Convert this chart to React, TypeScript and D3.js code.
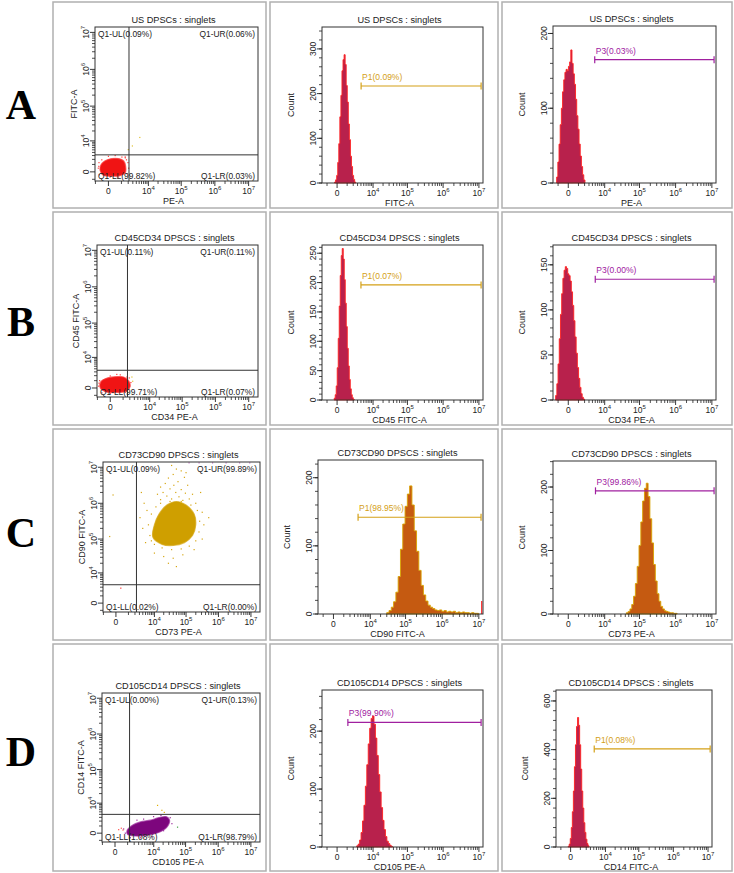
import React from "react";
import * as d3 from "d3";

const FONT = "'Liberation Sans', Arial, Helvetica, sans-serif";
const INK = "#222";

// panel grid
const rowLetters = ["A", "B", "C", "D"];
const letterMidY = [105, 322, 533, 752];
const colEdges = [[53, 266], [270, 498], [502, 732]];
const rowEdges = [[2, 208], [212, 425], [429, 640], [644, 871]];

// shared decade axis
const decades = [0, 1e4, 1e5, 1e6, 1e7];
const minorDecades = [
  -1000,
  ...d3.range(1000, 10000, 1000),
  ...[1e4, 1e5, 1e6].flatMap((p) => d3.range(2, 10).map((k) => k * p)),
];

// ---- dot plots: [PE, FITC] intensities ----
const usCore = [[-545, 200], [-460, 990], [-180, 1690], [180, 2190], [700, 2190], [1270, 1690], [1570, 700], [1510, -100], [860, -450], [180, -520], [-290, -400]];
const usEvents = [[-697, 440], [-633, 1323], [0, 2771], [410, 2982], [1058, 2570], [1960, 1323], [2087, 440], [1790, -207], [-605, -343], [85, -640], [697, -640], [1514, 2378], [-400, 1900], [1500, 2600], [1700, 1900], [-650, 700]];
const usStray = [[2890, 6820], [5260, 12770], [2020, 5070]];

const cd45Core = [[-700, 0], [-630, 870], [-180, 1470], [290, 1770], [1060, 1690], [1790, 990], [2090, 210], [1510, -350], [410, -560], [-290, -450]];
const cd45Events = [[-860, 207], [-762, 994], [0, 1935], [697, 2193], [1514, 1692], [2219, 701], [1272, -540], [0, -700], [-545, -600], [-820, 600], [1900, 1500], [400, 2300]];
const cd45Stray = [[2427, 1692], [2600, 900]];

// CD73/CD90 events in log10 units
const cd73CoreLog = [[3.95, 5.05], [4.0, 5.4], [4.15, 5.7], [4.4, 5.95], [4.7, 6.05], [5.0, 5.95], [5.25, 5.7], [5.3, 5.4], [5.2, 5.1], [4.95, 4.9], [4.6, 4.82], [4.25, 4.85]];
const cd73EventsLog = [
  [4.55, 7.05], [4.7, 6.95], [4.85, 6.9], [4.6, 6.8], [4.45, 6.7], [4.95, 6.72], [4.75, 6.6], [4.35, 6.55],
  [4.62, 6.5], [5.05, 6.5], [4.5, 6.4], [4.85, 6.38], [4.28, 6.3], [4.68, 6.3], [4.98, 6.28], [5.2, 6.25],
  [4.4, 6.2], [4.78, 6.18], [4.55, 6.12], [5.1, 6.12], [4.2, 6.1], [4.9, 6.08],
  [3.85, 5.1], [3.8, 5.4], [3.9, 5.7], [4.05, 5.9], [4.2, 6.0], [4.5, 6.05], [4.85, 6.05], [5.15, 5.95],
  [5.35, 5.8], [5.42, 5.5], [5.4, 5.2], [5.3, 4.95], [5.1, 4.8], [4.85, 4.72], [4.55, 4.7], [4.25, 4.75],
  [4.0, 4.85], [3.9, 4.95], [3.6, 5.3], [3.7, 4.9], [3.75, 5.8], [4.0, 4.6], [4.3, 4.5], [4.6, 4.45],
  [4.9, 4.55], [5.25, 4.7], [5.5, 5.0], [5.55, 5.4], [5.5, 5.75], [5.3, 6.0], [3.65, 6.0], [4.1, 6.25],
  [5.45, 6.3], [4.45, 4.3], [4.7, 4.2], [3.5, 5.6], [3.55, 6.3], [5.7, 5.6], [4.2, 6.45], [5.0, 6.85],
];
const cd73Outliers = [[-158, 1.7e6], [-389, 1.18e5]];
const cd73Top = [[124000, 1.32e7], [253000, 1.32e7], [660000, 1.32e7], [1.72e6, 1.32e7], [4.48e6, 1.32e7], [9.2e6, 1.32e7]];
const cd73Red = [[289, 2720]];

const cd105Core = [[926, 290], [1610, 1095], [3450, 1800], [7680, 2220], [14350, 2900], [25100, 3220], [31900, 2220], [26300, 800], [14350, 78], [5940, -248], [2220, -340], [1010, -160]];
const cd105Events = [[586, 530], [746, 0], [1260, 634], [2580, 2220], [4550, 2500], [9870, 3220], [17100, 3570], [33500, 2900], [37800, 1430], [20700, 290], [8720, -430], [3450, -580], [1360, -580]];
const cd105Red = [[206, 430], [392, 634], [528, 380]];
const cd105Stray = [[13300, 8450], [21800, 4760], [18300, 5700]];
const cd105Green = [[56500, 800]];

const fromLog = (pts: number[][]) => pts.map(([a, b]) => [10 ** a, 10 ** b]);

// ---- histograms: counts per channel between lo and hi ----
const usFitcCounts = [2, 7, 17, 46, 88, 148, 196, 251, 276, 287, 265, 218, 181, 132, 97, 60, 37, 17, 8, 2];
const usPeCounts = [8, 28, 52, 78, 100, 122, 138, 148, 152, 150, 156, 162, 178, 160, 146, 132, 112, 90, 72, 52, 36, 22, 11, 4];
const cd45Counts = [3, 9, 24, 55, 105, 160, 212, 246, 258, 240, 205, 165, 125, 88, 58, 35, 19, 9, 4, 1];
const cd34Counts = [5, 18, 40, 68, 95, 118, 135, 144, 148, 146, 140, 138, 132, 120, 105, 88, 70, 52, 36, 24, 14, 7, 3, 1];
const cd90Counts = [2, 5, 10, 18, 32, 55, 95, 132, 158, 176, 188, 160, 122, 92, 64, 42, 28, 19, 13, 10, 8, 6, 5, 6, 4, 5, 3, 4, 3, 4, 2, 3, 2, 3, 2, 2, 1, 2, 1, 1];
const cd73Counts = [2, 4, 8, 15, 28, 48, 75, 108, 145, 178, 198, 206, 185, 150, 112, 78, 52, 32, 20, 12, 8, 5, 4, 3, 2, 2, 1, 1];
const cd105Counts = [2, 5, 12, 25, 45, 72, 105, 142, 178, 205, 222, 226, 212, 188, 158, 125, 95, 68, 46, 30, 18, 10, 6, 3, 1];
const cd14Counts = [3, 12, 35, 80, 145, 230, 330, 420, 495, 532, 500, 420, 320, 230, 160, 100, 60, 32, 14, 5];

const RED = { fill: "#b8214c", stroke: "#ff2020" };
const ORANGE = { fill: "#c55a11", stroke: "#d9a300" };
const GOLD = "#d4a017";
const PURPLE = "#a0209f";

const scatterPanels = [
  {
    plot: [95, 258, 27, 181], title: "US DPSCs : singlets", xLabel: "PE-A", yLabel: "FITC-A",
    quad: ["Q1-UL(0.09%)", "Q1-UR(0.06%)", "Q1-LL(99.82%)", "Q1-LR(0.03%)"], gate: [2150, 3200],
    core: usCore, coreColor: "#f01414",
    groups: [{ pts: usEvents, color: "#ff4040" }, { pts: usStray, color: "#e0c030" }],
  },
  {
    plot: [97, 258, 245, 397], title: "CD45CD34 DPSCS : singlets", xLabel: "CD34 PE-A", yLabel: "CD45 FITC-A",
    quad: ["Q1-UL(0.11%)", "Q1-UR(0.11%)", "Q1-LL(99.71%)", "Q1-LR(0.07%)"], gate: [1600, 3500],
    core: cd45Core, coreColor: "#f01414",
    groups: [{ pts: cd45Events, color: "#ff4040" }, { pts: cd45Stray, color: "#e0c030" }],
  },
  {
    plot: [103, 260, 462, 612], title: "CD73CD90 DPSCS : singlets", xLabel: "CD73 PE-A", yLabel: "CD90 FITC-A",
    quad: ["Q1-UL(0.09%)", "Q1-UR(99.89%)", "Q1-LL(0.02%)", "Q1-LR(0.00%)"], gate: [2300, 3800],
    core: fromLog(cd73CoreLog), coreColor: "#cf9f00",
    groups: [
      { pts: fromLog(cd73EventsLog), color: "#d6a612" },
      { pts: cd73Outliers, color: "#d6a612" },
      { pts: cd73Top, color: "#c070c8" },
      { pts: cd73Red, color: "#ff3030" },
    ],
  },
  {
    plot: [102, 260, 693, 842], title: "CD105CD14 DPSCS : singlets", xLabel: "CD105 PE-A", yLabel: "CD14 FITC-A",
    quad: ["Q1-UL(0.00%)", "Q1-UR(0.13%)", "Q1-LL(1.08%)", "Q1-LR(98.79%)"], gate: [1250, 4000],
    core: cd105Core, coreColor: "#7d067d",
    groups: [{ pts: cd105Events, color: "#9b2b9b" }, { pts: cd105Red, color: "#ff5050" }, { pts: cd105Stray, color: "#e0b000" }, { pts: cd105Green, color: "#40a040" }],
  },
];

const histPanels = [
  { plot: [322, 483, 27, 183], title: "US DPSCs : singlets", xLabel: "FITC-A", counts: usFitcCounts, lo: -193, hi: 2542, yMax: 349, yTicks: [0, 100, 200, 300], yMinor: 20, colors: RED, gate: { label: "P1(0.09%)", lo: 4050, count: 217, color: GOLD } },
  { plot: [553, 716, 26, 183], title: "US DPSCs : singlets", xLabel: "PE-A", counts: usPeCounts, lo: -1198, hi: 2072, yMax: 210, yTicks: [0, 100, 200], yMinor: 20, colors: RED, gate: { label: "P3(0.03%)", lo: 4800, count: 165, color: PURPLE } },
  { plot: [322, 483, 245, 400], title: "CD45CD34 DPSCS : singlets", xLabel: "CD45 FITC-A", counts: cd45Counts, lo: -222, hi: 2222, yMax: 264, yTicks: [0, 50, 100, 150, 200, 250], yMinor: 10, colors: RED, gate: { label: "P1(0.07%)", lo: 4000, count: 196, color: GOLD } },
  { plot: [553, 716, 245, 400], title: "CD45CD34 DPSCS : singlets", xLabel: "CD34 PE-A", counts: cd34Counts, lo: -1350, hi: 2000, yMax: 172, yTicks: [0, 50, 100, 150], yMinor: 10, colors: RED, gate: { label: "P3(0.00%)", lo: 5000, count: 134, color: PURPLE } },
  { plot: [318, 483, 460, 614], title: "CD73CD90 DPSCS : singlets", xLabel: "CD90 FITC-A", counts: cd90Counts, lo: 29900, hi: 9.8e6, yMax: 226, yTicks: [0, 100, 200], yMinor: 20, colors: ORANGE, gate: { label: "P1(98.95%)", lo: 4050, count: 142, color: GOLD }, overflow: { value: 1.2e7, count: 19 } },
  { plot: [553, 716, 461, 614], title: "CD73CD90 DPSCS : singlets", xLabel: "CD73 PE-A", counts: cd73Counts, lo: 42700, hi: 1.1e6, yMax: 241, yTicks: [0, 100, 200], yMinor: 20, colors: ORANGE, gate: { label: "P3(99.86%)", lo: 5090, count: 194, color: PURPLE } },
  { plot: [322, 483, 690, 847], title: "CD105CD14 DPSCS : singlets", xLabel: "CD105 PE-A", counts: cd105Counts, lo: 2800, hi: 37900, yMax: 271, yTicks: [0, 100, 200], yMinor: 20, colors: RED, gate: { label: "P3(99.90%)", lo: 1100, count: 215, color: PURPLE } },
  { plot: [556, 712, 690, 847], title: "CD105CD14 DPSCS : singlets", xLabel: "CD14 FITC-A", counts: cd14Counts, lo: -193, hi: 2627, yMax: 645, yTicks: [0, 200, 400, 600], yMinor: 40, colors: RED, gate: { label: "P1(0.08%)", lo: 4165, count: 403, color: GOLD } },
];

const GATE_END = 1.15e7;

function DecadeText({ v }: { v: number }) {
  if (v === 0) return <>0</>;
  return (
    <>
      10<tspan dy={-4} fontSize={6}>{Math.round(Math.log10(v))}</tspan>
    </>
  );
}

function DecadeXAxis({ x, b }: any) {
  return (
    <g>
      {minorDecades.map((v) => (
        <line key={"m" + v} x1={x(v)} x2={x(v)} y1={b} y2={b + 3} stroke={INK} strokeWidth={0.8} />
      ))}
      {decades.map((v) => (
        <g key={v}>
          <line x1={x(v)} x2={x(v)} y1={b} y2={b + 5} stroke={INK} strokeWidth={0.9} />
          <text x={x(v)} y={b + 13} textAnchor="middle" fontSize={8.5}>
            <DecadeText v={v} />
          </text>
        </g>
      ))}
    </g>
  );
}

function DecadeYAxis({ y, l }: any) {
  return (
    <g>
      {minorDecades.map((v) => (
        <line key={"m" + v} x1={l - 3} x2={l} y1={y(v)} y2={y(v)} stroke={INK} strokeWidth={0.8} />
      ))}
      {decades.map((v) => (
        <g key={v}>
          <line x1={l - 5} x2={l} y1={y(v)} y2={y(v)} stroke={INK} strokeWidth={0.9} />
          <text transform={`translate(${l - 6},${y(v)}) rotate(-90)`} textAnchor="middle" fontSize={8.5}>
            <DecadeText v={v} />
          </text>
        </g>
      ))}
    </g>
  );
}

function Frame({ l, r, t, b, title, xLabel, yLabel, yLabelOffset }: any) {
  const cx = (l + r) / 2 - 3;
  return (
    <g>
      <rect x={l} y={t} width={r - l} height={b - t} fill="none" stroke="#333" strokeWidth={1} />
      <text x={cx} y={t - 4} textAnchor="middle" fontSize={9.2}>{title}</text>
      <text x={cx} y={b + 23} textAnchor="middle" fontSize={9}>{xLabel}</text>
      <text transform={`translate(${l - yLabelOffset},${(t + b) / 2}) rotate(-90)`} textAnchor="middle" fontSize={9}>
        {yLabel}
      </text>
    </g>
  );
}

function ScatterPanel({ p, id }: any) {
  const [l, r, t, b] = p.plot;
  const x = d3.scaleSymlog().constant(700).domain([-1050, 1.9e7]).range([l, r]);
  const y = d3.scaleSymlog().constant(1700).domain([-1300, 1.4e7]).range([b, t]);
  const blob = d3
    .line<number[]>()
    .x((d) => x(d[0]))
    .y((d) => y(d[1]))
    .curve(d3.curveCatmullRomClosed.alpha(0.5));
  const gx = x(p.gate[0]);
  const gy = y(p.gate[1]);
  return (
    <g>
      <clipPath id={id}>
        <rect x={l} y={t} width={r - l} height={b - t} />
      </clipPath>
      <g clipPath={`url(#${id})`}>
        <path d={blob(p.core) || ""} fill={p.coreColor} stroke={p.groups[0].color} strokeWidth={1.2} strokeOpacity={0.7} />
        {p.groups.map((g: any, gi: number) =>
          g.pts.map((d: number[], i: number) => (
            <rect key={gi + "-" + i} x={x(d[0]) - 0.6} y={y(d[1]) - 0.6} width={1.2} height={1.2} fill={g.color} />
          ))
        )}
      </g>
      <line x1={gx} x2={gx} y1={t} y2={b} stroke="#333" strokeWidth={1} />
      <line x1={l} x2={r} y1={gy} y2={gy} stroke="#333" strokeWidth={1} />
      <g fontSize={8.4}>
        <text x={l + 3} y={t + 10}>{p.quad[0]}</text>
        <text x={r - 3} y={t + 10} textAnchor="end">{p.quad[1]}</text>
        <text x={l + 3} y={b - 2}>{p.quad[2]}</text>
        <text x={r - 3} y={b - 2} textAnchor="end">{p.quad[3]}</text>
      </g>
      <Frame l={l} r={r} t={t} b={b} title={p.title} xLabel={p.xLabel} yLabel={p.yLabel} yLabelOffset={18} />
      <DecadeXAxis x={x} b={b} />
      <DecadeYAxis y={y} l={l} />
    </g>
  );
}

function HistPanel({ p }: any) {
  const [l, r, t, b] = p.plot;
  const x = d3.scaleSymlog().constant(1100).domain([-1800, 1.3e7]).range([l, r]);
  const y = d3.scaleLinear().domain([0, p.yMax]).range([b, t]);
  const n = p.counts.length;
  const bin = d3.scaleLinear().domain([0, n]).range([x(p.lo), x(p.hi)]);
  const area = d3
    .area<number>()
    .x((_, i) => bin(i))
    .y0(y(0))
    .y1((d) => y(d))
    .curve(d3.curveStepAfter);
  const g = p.gate;
  const gy = y(g.count);
  const gx0 = x(g.lo);
  const gx1 = x(GATE_END);
  const minor = d3.range(0, p.yMax, p.yMinor);
  return (
    <g>
      <path d={area([...p.counts, 0]) || ""} fill={p.colors.fill} stroke={p.colors.stroke} strokeWidth={0.9} />
      {p.overflow && (
        <line x1={x(p.overflow.value)} x2={x(p.overflow.value)} y1={y(0)} y2={y(p.overflow.count)} stroke="#ff2020" strokeWidth={1.2} />
      )}
      <g stroke={g.color} strokeWidth={1.2}>
        <line x1={gx0} x2={gx1} y1={gy} y2={gy} />
        <line x1={gx0} x2={gx0} y1={gy - 3.5} y2={gy + 3.5} />
        <line x1={gx1} x2={gx1} y1={gy - 3.5} y2={gy + 3.5} />
      </g>
      <text x={gx0 + 1} y={gy - 6} fontSize={8.5} fill={g.color}>{g.label}</text>
      <Frame l={l} r={r} t={t} b={b} title={p.title} xLabel={p.xLabel} yLabel="Count" yLabelOffset={28} />
      <DecadeXAxis x={x} b={b} />
      {minor.map((v: number) => (
        <line key={"m" + v} x1={l - 3} x2={l} y1={y(v)} y2={y(v)} stroke={INK} strokeWidth={0.8} />
      ))}
      {p.yTicks.map((v: number) => (
        <g key={v}>
          <line x1={l - 5} x2={l} y1={y(v)} y2={y(v)} stroke={INK} strokeWidth={0.9} />
          <text transform={`translate(${l - 6},${y(v)}) rotate(-90)`} textAnchor="middle" fontSize={8.5}>{v}</text>
        </g>
      ))}
    </g>
  );
}

export default function App() {
  return (
    <svg
      width={734}
      height={873}
      style={{ position: "absolute", left: 0, top: 0, background: "#fff" }}
      fontFamily={FONT}
      fill={INK}
    >
      <rect width={734} height={873} fill="#fff" />
      {rowEdges.map(([top, bottom], ri) => (
        <g key={ri}>
          <text
            x={21}
            y={letterMidY[ri] + 14}
            textAnchor="middle"
            fontFamily="'Liberation Serif', 'Times New Roman', serif"
            fontWeight="bold"
            fontSize={42}
            fill="#000"
          >
            {rowLetters[ri]}
          </text>
          {colEdges.map(([left, right], ci) => (
            <rect key={ci} x={left} y={top} width={right - left} height={bottom - top} fill="none" stroke="#b0b0b0" strokeWidth={1.5} />
          ))}
        </g>
      ))}
      {scatterPanels.map((p, i) => (
        <ScatterPanel key={"s" + i} p={p} id={"clip" + i} />
      ))}
      {histPanels.map((p, i) => (
        <HistPanel key={"h" + i} p={p} />
      ))}
    </svg>
  );
}
